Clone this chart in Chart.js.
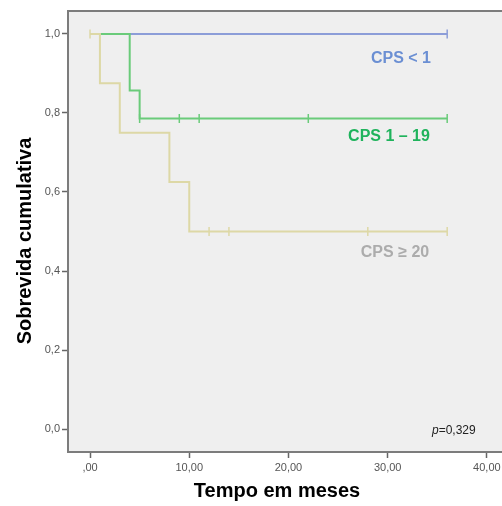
<!DOCTYPE html>
<html><head><meta charset="utf-8">
<script src="https://cdn.jsdelivr.net/npm/chart.js@4/dist/chart.umd.min.js"></script>
<style>html,body{margin:0;padding:0;background:#fff;overflow:hidden;width:502px;height:506px}canvas{display:block}</style>
</head><body>
<canvas id="c" width="540" height="506"></canvas>
<script>
// Tick values and labels
const xTickValues = [0, 10, 20, 30, 40];
const xTickLabels = [',00', '10,00', '20,00', '30,00', '40,00'];
const yTickValues = [0, 0.2, 0.4, 0.6, 0.8, 1.0];
const yTickLabels = ['0,0', '0,2', '0,4', '0,6', '0,8', '1,0'];

// CPS >= 20 (step function points and censored cases)
const timeHigh = [0, 1, 3, 8, 10, 36];
const survHigh = [1, 0.875, 0.75, 0.625, 0.5, 0.5];
const censorTimeHigh = [0, 12, 14, 28, 36];
const censorSurvHigh = [1, 0.5, 0.5, 0.5, 0.5];

// CPS 1 - 19
const timeMid = [0, 4, 5, 36];
const survMid = [1, 0.857, 0.786, 0.786];
const censorTimeMid = [5, 9, 11, 22, 36];
const censorSurvMid = [0.786, 0.786, 0.786, 0.786, 0.786];

// CPS < 1
const timeLow = [0, 36];
const survLow = [1, 1];
const censorTimeLow = [36];
const censorSurvLow = [1];

const seriesNames = ['CPS < 1', 'CPS 1 – 19', 'CPS ≥ 20'];
const pValueText = '=0,329';
const xTitle = 'Tempo em meses';
const yTitle = 'Sobrevida cumulativa';

const toXY = (xs, ys) => xs.map((x, i) => ({x: x, y: ys[i]}));

const COL_LOW = '#8c9dd8', COL_MID = '#6acb7a', COL_HIGH = '#ddd8a6';
const FONT = "'Liberation Sans', Arial, sans-serif";
Chart.defaults.font.family = FONT;

function lineDs(label, data, color, order) {
  return {type: 'line', label, data, borderColor: color, backgroundColor: color,
    borderWidth: 2, stepped: 'before', pointRadius: 0, fill: false, order};
}
function censorDs(label, data, color, order) {
  return {type: 'scatter', label, data, borderColor: color, backgroundColor: color,
    pointStyle: 'line', rotation: 90, pointRadius: 4.5, borderWidth: 1.5,
    showLine: false, order};
}

const bgPlugin = {
  id: 'bg',
  beforeDraw(chart) {
    const {ctx, chartArea: a} = chart;
    ctx.save();
    ctx.fillStyle = '#efefef';
    ctx.fillRect(a.left, a.top, a.right - a.left, a.bottom - a.top);
    ctx.restore();
  },
  afterDraw(chart) {
    const {ctx, chartArea: a} = chart;
    ctx.save();
    ctx.strokeStyle = '#7c7c7c';
    ctx.lineWidth = 2;
    ctx.beginPath();
    ctx.moveTo(a.left - 1, a.top);
    ctx.lineTo(a.right + 2, a.top);
    ctx.stroke();

    // series labels
    ctx.textAlign = 'center';
    ctx.textBaseline = 'middle';
    ctx.font = 'bold 16px ' + FONT;
    ctx.fillStyle = '#6b8fd3';
    ctx.fillText(seriesNames[0], 401, 59);
    ctx.fillStyle = '#1fb35c';
    ctx.fillText(seriesNames[1], 389, 137);
    ctx.fillStyle = '#acacac';
    ctx.fillText(seriesNames[2], 395, 253);

    // p value
    ctx.textAlign = 'left';
    ctx.fillStyle = '#222';
    ctx.font = 'italic 12px ' + FONT;
    ctx.fillText('p', 432, 431);
    const pw = ctx.measureText('p').width;
    ctx.font = '12px ' + FONT;
    ctx.fillText(pValueText, 432 + pw, 431);

    // axis titles
    ctx.font = 'bold 20px ' + FONT;
    ctx.fillStyle = '#000';
    ctx.textAlign = 'center';
    ctx.textBaseline = 'alphabetic';
    ctx.fillText(xTitle, 277, 497);
    ctx.translate(31, 241);
    ctx.rotate(-Math.PI / 2);
    ctx.fillText(yTitle, 0, 0);
    ctx.restore();
  }
};

new Chart(document.getElementById('c'), {
  data: {
    datasets: [
      lineDs(seriesNames[2], toXY(timeHigh, survHigh), COL_HIGH, 1),
      censorDs(seriesNames[2] + ' censored', toXY(censorTimeHigh, censorSurvHigh), COL_HIGH, 1),
      lineDs(seriesNames[1], toXY(timeMid, survMid), COL_MID, 2),
      censorDs(seriesNames[1] + ' censored', toXY(censorTimeMid, censorSurvMid), COL_MID, 2),
      lineDs(seriesNames[0], toXY(timeLow, survLow), COL_LOW, 3),
      censorDs(seriesNames[0] + ' censored', toXY(censorTimeLow, censorSurvLow), COL_LOW, 3)
    ]
  },
  options: {
    responsive: false,
    animation: false,
    events: [],
    layout: {padding: {top: 11, left: 0, right: 0, bottom: 0}},
    plugins: {legend: {display: false}, tooltip: {enabled: false}},
    scales: {
      x: {
        type: 'linear', min: -2.22, max: 44.75,
        afterBuildTicks: s => { s.ticks = xTickValues.map(v => ({value: v})); },
        afterFit: s => { s.height = 54; },
        ticks: {callback: (v, i) => xTickLabels[i], font: {size: 11}, color: '#555', padding: 3, maxRotation: 0, autoSkip: false},
        grid: {drawOnChartArea: false, drawTicks: true, tickLength: 6, color: '#666', tickWidth: 1.5},
        border: {display: true, color: '#7c7c7c', width: 2}
      },
      y: {
        type: 'linear', min: -0.058, max: 1.058,
        afterBuildTicks: s => { s.ticks = yTickValues.map(v => ({value: v})); },
        afterFit: s => { s.width = 68; },
        ticks: {callback: (v, i) => yTickLabels[i], font: {size: 11}, color: '#555', padding: 2, autoSkip: false},
        grid: {drawOnChartArea: false, drawTicks: true, tickLength: 6, color: '#666', tickWidth: 1.5},
        border: {display: true, color: '#7c7c7c', width: 2}
      }
    }
  },
  plugins: [bgPlugin]
});
</script>
</body></html>
